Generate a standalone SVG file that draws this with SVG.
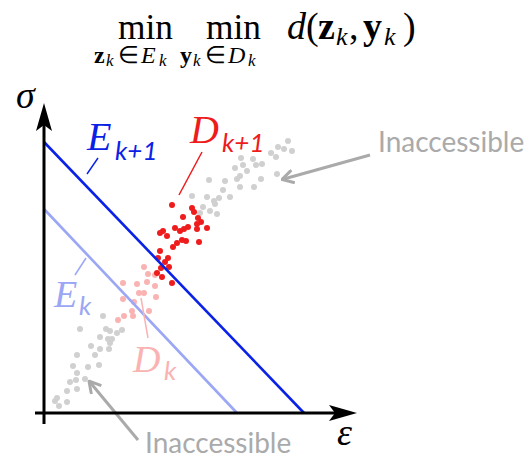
<svg xmlns="http://www.w3.org/2000/svg" width="528" height="458" viewBox="0 0 528 458">
<style>
.g{fill:#d0d0d0}
.r{fill:#ee1c1c}
.p{fill:#f9b3b3}
.f{font-family:"Liberation Serif",serif;fill:#000}
.it{font-style:italic}
.bd{font-weight:bold}
.lab{font-family:"Liberation Serif",serif;font-style:italic}
.sub{font-family:Lato,"Liberation Sans",sans-serif;font-style:italic}
.ina{font-family:Lato,"Liberation Sans",sans-serif;font-size:28px;fill:#aaaaaa}
.garrow{stroke:#aaaaaa;stroke-width:3;fill:none}
</style>
<defs>
<marker id="open" viewBox="0 0 13 15" refX="12" refY="7.5" markerWidth="13" markerHeight="15" markerUnits="userSpaceOnUse" orient="auto">
<path d="M0.5,1 L12,7.5 L0.5,14" fill="none" stroke="#aaaaaa" stroke-width="3"/>
</marker>
</defs>

<g id="formula" class="f">
<text x="118" y="39" font-size="36" textLength="55" lengthAdjust="spacingAndGlyphs">min</text>
<text y="63" font-size="24"><tspan x="94" class="bd">z</tspan><tspan x="106" class="it" font-size="17" dy="3">k</tspan><tspan x="118" dy="-3">∈</tspan><tspan x="141" class="it">E</tspan><tspan x="159" class="it" font-size="17" dy="3">k</tspan></text>
<text x="206" y="39" font-size="36" textLength="55" lengthAdjust="spacingAndGlyphs">min</text>
<text y="63" font-size="24"><tspan x="180" class="bd">y</tspan><tspan x="193" class="it" font-size="17" dy="3">k</tspan><tspan x="205" dy="-3">∈</tspan><tspan x="228" class="it">D</tspan><tspan x="248" class="it" font-size="17" dy="3">k</tspan></text>
<text y="39" font-size="38"><tspan x="287" class="it">d</tspan><tspan x="306">(</tspan><tspan x="318" class="bd">z</tspan><tspan x="336" class="it" font-size="26" dy="6">k</tspan><tspan x="349" dy="-6">,</tspan><tspan x="363" class="bd">y</tspan><tspan x="384" class="it" font-size="26" dy="6">k</tspan><tspan x="403" dy="-6">)</tspan></text>
</g>

<g id="dots-gray-upper">
<circle class="g" cx="288" cy="141" r="3"/><circle class="g" cx="278" cy="147" r="3"/><circle class="g" cx="284" cy="149" r="3"/><circle class="g" cx="292" cy="151" r="3"/><circle class="g" cx="271" cy="153" r="3"/><circle class="g" cx="276" cy="157" r="3"/><circle class="g" cx="241" cy="158" r="3"/><circle class="g" cx="253" cy="159" r="3"/><circle class="g" cx="256" cy="165" r="3"/><circle class="g" cx="262" cy="164" r="3"/><circle class="g" cx="243" cy="165" r="3"/><circle class="g" cx="235" cy="168" r="3"/><circle class="g" cx="247" cy="171" r="3"/><circle class="g" cx="277" cy="174" r="3"/><circle class="g" cx="240" cy="176" r="3"/><circle class="g" cx="237" cy="179" r="3"/><circle class="g" cx="261" cy="179" r="3"/><circle class="g" cx="225" cy="181" r="3"/><circle class="g" cx="209" cy="180" r="3"/><circle class="g" cx="254" cy="187" r="3"/><circle class="g" cx="240" cy="187" r="3"/><circle class="g" cx="223" cy="190" r="3"/><circle class="g" cx="230" cy="197" r="3"/><circle class="g" cx="219" cy="198" r="3"/><circle class="g" cx="207" cy="197" r="3"/><circle class="g" cx="192" cy="196" r="3"/><circle class="g" cx="214" cy="201" r="3"/><circle class="g" cx="215" cy="204" r="3"/><circle class="g" cx="210" cy="211" r="3"/><circle class="g" cx="203" cy="207" r="3"/><circle class="g" cx="200" cy="213" r="3"/><circle class="g" cx="217" cy="214" r="3"/>
</g>
<g id="dots-gray-lower">
<circle class="g" cx="103" cy="316" r="3"/><circle class="g" cx="80" cy="329" r="3"/><circle class="g" cx="106" cy="329" r="3"/><circle class="g" cx="110" cy="331" r="3"/><circle class="g" cx="122" cy="330" r="3"/><circle class="g" cx="117" cy="333" r="3"/><circle class="g" cx="100" cy="337" r="3"/><circle class="g" cx="108" cy="339" r="3"/><circle class="g" cx="112" cy="339" r="3"/><circle class="g" cx="110" cy="343" r="3"/><circle class="g" cx="91" cy="346" r="3"/><circle class="g" cx="100" cy="349" r="3"/><circle class="g" cx="109" cy="349" r="3"/><circle class="g" cx="95" cy="355" r="3"/><circle class="g" cx="77" cy="355" r="3"/><circle class="g" cx="99" cy="365" r="3"/><circle class="g" cx="88" cy="367" r="3"/><circle class="g" cx="73" cy="366" r="3"/><circle class="g" cx="77" cy="373" r="3"/><circle class="g" cx="85" cy="379" r="3"/><circle class="g" cx="70" cy="382" r="3"/><circle class="g" cx="76" cy="380" r="3"/><circle class="g" cx="77" cy="389" r="3"/><circle class="g" cx="67" cy="391" r="3"/><circle class="g" cx="57" cy="398" r="3"/><circle class="g" cx="55" cy="401" r="3"/><circle class="g" cx="67" cy="402" r="3"/><circle class="g" cx="59" cy="406" r="3"/>
</g>
<g id="dots-pink">
<circle class="p" cx="144" cy="267" r="3"/><circle class="p" cx="148" cy="274" r="3"/><circle class="p" cx="155" cy="275" r="3"/><circle class="p" cx="147" cy="282" r="3"/><circle class="p" cx="155" cy="286" r="3"/><circle class="p" cx="137" cy="284" r="3"/><circle class="p" cx="123" cy="283" r="3"/><circle class="p" cx="139" cy="293" r="3"/><circle class="p" cx="144" cy="293" r="3"/><circle class="p" cx="156" cy="297" r="3"/><circle class="p" cx="123" cy="299" r="3"/><circle class="p" cx="134" cy="302" r="3"/><circle class="p" cx="132" cy="311" r="3"/><circle class="p" cx="149" cy="311" r="3"/><circle class="p" cx="124" cy="316" r="3"/><circle class="p" cx="133" cy="316" r="3"/><circle class="p" cx="118" cy="320" r="3"/>
</g>
<g id="dots-red">
<circle class="r" cx="172" cy="205" r="3"/><circle class="r" cx="192" cy="208" r="3"/><circle class="r" cx="194" cy="212" r="3"/><circle class="r" cx="183" cy="217" r="3"/><circle class="r" cx="198" cy="218" r="3"/><circle class="r" cx="201" cy="222" r="3"/><circle class="r" cx="197" cy="224" r="3"/><circle class="r" cx="188" cy="227" r="3"/><circle class="r" cx="184" cy="229" r="3"/><circle class="r" cx="175" cy="228" r="3"/><circle class="r" cx="180" cy="231" r="3"/><circle class="r" cx="207" cy="228" r="3"/><circle class="r" cx="197" cy="229" r="3"/><circle class="r" cx="163" cy="231" r="3"/><circle class="r" cx="160" cy="233" r="3"/><circle class="r" cx="167" cy="236" r="3"/><circle class="r" cx="182" cy="240" r="3"/><circle class="r" cx="186" cy="241" r="3"/><circle class="r" cx="177" cy="243" r="3"/><circle class="r" cx="173" cy="247" r="3"/><circle class="r" cx="199" cy="242" r="3"/><circle class="r" cx="160" cy="251" r="3"/><circle class="r" cx="168" cy="258" r="3"/><circle class="r" cx="158" cy="258" r="3"/><circle class="r" cx="165" cy="262" r="3"/><circle class="r" cx="169" cy="267" r="3"/><circle class="r" cx="161" cy="268" r="3"/><circle class="r" cx="157" cy="273" r="3"/><circle class="r" cx="162" cy="277" r="3"/><circle class="r" cx="172" cy="283" r="3"/>
</g>

<g id="connectors">
<line id="E-k" x1="44" y1="209" x2="237" y2="413" stroke="#9ba7f4" stroke-width="2.6"/>
<line id="E-k1" x1="44" y1="142" x2="304" y2="413" stroke="#0a22e6" stroke-width="2.6"/>
<line x1="98" y1="158" x2="87" y2="174" stroke="#0a22e6" stroke-width="1.5"/>
<line x1="202" y1="152" x2="179" y2="195" stroke="#ee1c1c" stroke-width="1.5"/>
<line x1="86" y1="258" x2="75" y2="275" stroke="#9ba7f4" stroke-width="1.5"/>
<line x1="141" y1="298" x2="148" y2="338" stroke="#f9b3b3" stroke-width="1.5"/>
<line class="garrow" x1="370" y1="155" x2="282" y2="179.5" marker-end="url(#open)"/>
<line class="garrow" x1="138" y1="440" x2="89" y2="381" marker-end="url(#open)"/>
</g>

<g id="axes">
<line x1="44" y1="424" x2="44" y2="120" stroke="#000" stroke-width="3"/>
<path d="M44,103 L52,131 L44,125 L36,131 Z" fill="#000"/>
<line x1="35" y1="413" x2="340" y2="413" stroke="#000" stroke-width="3"/>
<path d="M357,413 L329,405 L335,413 L329,421 Z" fill="#000"/>
<text x="16" y="108" font-family="'Liberation Serif',serif" font-style="italic" font-size="38">σ</text>
<text x="337" y="445" font-family="'Liberation Serif',serif" font-style="italic" font-size="38">ε</text>
</g>

<g id="label-Ek1" fill="#0a22e6">
<text class="lab" x="87" y="150" font-size="40">E</text>
<text class="sub" x="115" y="160" font-size="26">k+1</text>
</g>
<g id="label-Dk1" fill="#ee1c1c">
<text class="lab" x="190" y="143" font-size="40">D</text>
<text class="sub" x="222" y="152" font-size="26">k+1</text>
</g>
<g id="label-Ek" fill="#9ba7f4">
<text class="lab" x="54" y="307" font-size="38">E</text>
<text class="sub" x="79" y="315" font-size="26">k</text>
</g>
<g id="label-Dk" fill="#f9b3b3">
<text class="lab" x="133" y="372" font-size="38">D</text>
<text class="sub" x="164" y="380" font-size="26">k</text>
</g>
<g id="label-inacc-top"><text class="ina" x="378" y="152">Inaccessible</text></g>
<g id="label-inacc-bottom"><text class="ina" x="145" y="453">Inaccessible</text></g>
</svg>
